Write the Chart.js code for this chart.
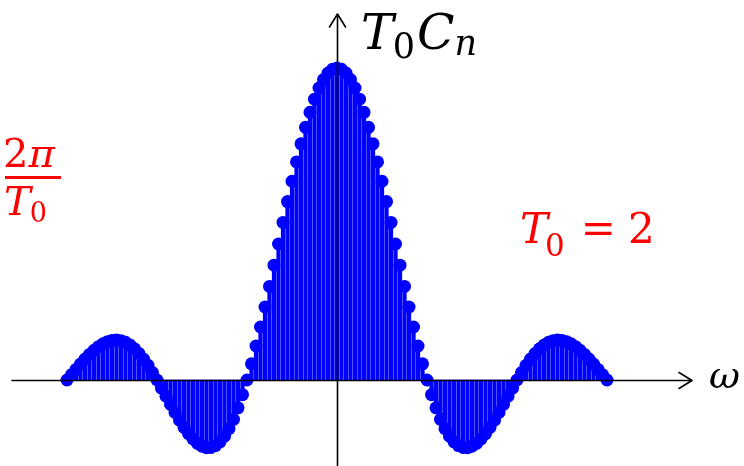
<!DOCTYPE html>
<html>
<head>
<meta charset="utf-8">
<script src="https://cdn.jsdelivr.net/npm/chart.js@4.4.1/dist/chart.umd.min.js"></script>
<style>
  html, body { margin: 0; padding: 0; background: #fff; }
  #wrap { width: 744px; height: 466px; }
</style>
</head>
<body>
<div id="wrap"><canvas id="spectrum" width="744" height="466"></canvas></div>
<script>
// harmonic index n (spacing 2pi/T0 per step, 20 steps per pi)
const harmonics = [
  -60, -59, -58, -57, -56, -55, -54, -53, -52, -51, -50, -49, -48, -47, -46, -45, -44, -43, -42, -41,
  -40, -39, -38, -37, -36, -35, -34, -33, -32, -31, -30, -29, -28, -27, -26, -25, -24, -23, -22, -21,
  -20, -19, -18, -17, -16, -15, -14, -13, -12, -11, -10, -9, -8, -7, -6, -5, -4, -3, -2, -1,
  0,
  1, 2, 3, 4, 5, 6, 7, 8, 9, 10, 11, 12, 13, 14, 15, 16, 17, 18, 19, 20,
  21, 22, 23, 24, 25, 26, 27, 28, 29, 30, 31, 32, 33, 34, 35, 36, 37, 38, 39, 40,
  41, 42, 43, 44, 45, 46, 47, 48, 49, 50, 51, 52, 53, 54, 55, 56, 57, 58, 59, 60
];

// T0*Cn, normalised to the peak
const coeffs = [
  0, 0.017, 0.034, 0.051, 0.067, 0.082, 0.095, 0.107, 0.116, 0.123, 0.127, 0.128, 0.126, 0.121, 0.112, 0.100, 0.085, 0.067, 0.047, 0.024,
  0, -0.026, -0.052, -0.078, -0.104, -0.129, -0.152, -0.172, -0.189, -0.203, -0.212, -0.217, -0.216, -0.210, -0.198, -0.180, -0.156, -0.126, -0.089, -0.047,
  0, 0.052, 0.109, 0.170, 0.234, 0.300, 0.368, 0.436, 0.505, 0.572, 0.637, 0.699, 0.757, 0.810, 0.858, 0.900, 0.936, 0.963, 0.984, 0.996,
  1,
  0.996, 0.984, 0.963, 0.936, 0.900, 0.858, 0.810, 0.757, 0.699, 0.637, 0.572, 0.505, 0.436, 0.368, 0.300, 0.234, 0.170, 0.109, 0.052, 0,
  -0.047, -0.089, -0.126, -0.156, -0.180, -0.198, -0.210, -0.216, -0.217, -0.212, -0.203, -0.189, -0.172, -0.152, -0.129, -0.104, -0.078, -0.052, -0.026, 0,
  0.024, 0.047, 0.067, 0.085, 0.100, 0.112, 0.121, 0.126, 0.128, 0.127, 0.123, 0.116, 0.107, 0.095, 0.082, 0.067, 0.051, 0.034, 0.017, 0
];

const BLUE = '#0000ff';
const RED = '#ff0000';
const SERIF = '"DejaVu Serif", "Liberation Serif", serif';

const points = harmonics.map((n, i) => ({ x: n, y: coeffs[i] }));

// draw one run of mixed-style text pieces: [text, font, dx, dy]
function drawPieces(ctx, x, y, color, pieces) {
  ctx.fillStyle = color;
  ctx.textBaseline = 'alphabetic';
  ctx.textAlign = 'left';
  let cx = x;
  pieces.forEach(([txt, font, dx, dy]) => {
    ctx.font = font;
    cx += dx || 0;
    ctx.fillText(txt, cx, y + (dy || 0));
    cx += ctx.measureText(txt).width;
  });
}

// axes with arrow heads plus the math annotations
const axesPlugin = {
  id: 'axesPlugin',
  afterDatasetsDraw(chart) {
    const ctx = chart.ctx;
    const xs = chart.scales.x;
    const ys = chart.scales.y;
    const x0 = Math.round(xs.getPixelForValue(0)) + 0.5;
    const y0 = Math.round(ys.getPixelForValue(0)) + 0.5;

    ctx.save();
    ctx.strokeStyle = '#000';
    ctx.lineWidth = 1.6;
    ctx.lineCap = 'round';
    ctx.lineJoin = 'round';

    // horizontal axis
    ctx.beginPath();
    ctx.moveTo(12, y0);
    ctx.lineTo(692, y0);
    ctx.moveTo(679, y0 - 8);
    ctx.lineTo(692, y0);
    ctx.lineTo(679, y0 + 8);
    ctx.stroke();

    // vertical axis
    ctx.beginPath();
    ctx.moveTo(x0, 466);
    ctx.lineTo(x0, 14);
    ctx.moveTo(x0 - 8, 27);
    ctx.lineTo(x0, 14);
    ctx.lineTo(x0 + 8, 27);
    ctx.stroke();

    // T0 Cn
    drawPieces(ctx, 361, 49, '#000', [
      ['T', 'italic 49px ' + SERIF],
      ['0', '35px ' + SERIF, -1, 9],
      ['C', 'italic 49px ' + SERIF, 2],
      ['n', 'italic 35px ' + SERIF, 0, 6]
    ]);

    // omega
    drawPieces(ctx, 709, 388, '#000', [['\u03c9', 'italic 38px ' + SERIF]]);

    // 2pi / T0
    drawPieces(ctx, 3, 167, RED, [
      ['2', '40px ' + SERIF],
      ['\u03c0', 'italic 40px ' + SERIF]
    ]);
    ctx.fillStyle = RED;
    ctx.fillRect(5, 176, 56, 3);
    drawPieces(ctx, 4, 215, RED, [
      ['T', 'italic 40px ' + SERIF],
      ['0', '27px ' + SERIF, -1, 7]
    ]);

    // T0 = 2
    drawPieces(ctx, 520, 243, RED, [
      ['T', 'italic 42px ' + SERIF],
      ['0', '31px ' + SERIF, -3, 13],
      ['=', '42px ' + SERIF, 16],
      ['2', '42px ' + SERIF, 12]
    ]);
    ctx.restore();
  }
};

new Chart(document.getElementById('spectrum'), {
  type: 'bar',
  data: {
    datasets: [
      {
        type: 'scatter',
        data: points,
        order: 0,
        pointRadius: 6.5,
        pointHoverRadius: 6.5,
        pointBackgroundColor: BLUE,
        pointBorderWidth: 0,
        showLine: false
      },
      {
        type: 'bar',
        data: points,
        order: 1,
        backgroundColor: BLUE,
        borderWidth: 0,
        barThickness: 3.6
      }
    ]
  },
  options: {
    responsive: false,
    devicePixelRatio: 1,
    animation: false,
    layout: { padding: 0, autoPadding: false },
    plugins: { legend: { display: false }, tooltip: { enabled: false } },
    scales: {
      x: { type: 'linear', display: false, offset: false, min: -74.89, max: 90.44 },
      y: { display: false, min: -0.2756, max: 1.218 }
    }
  },
  plugins: [axesPlugin]
});
</script>
</body>
</html>
